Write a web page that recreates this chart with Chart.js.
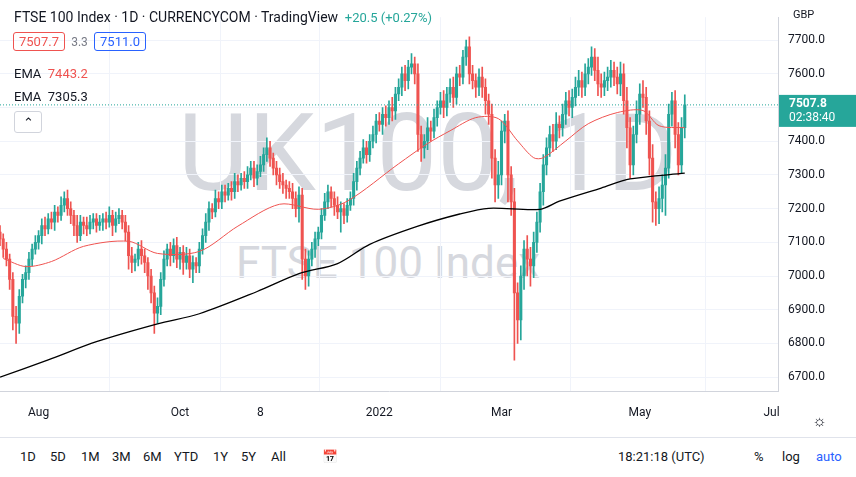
<!DOCTYPE html>
<html><head><meta charset="utf-8">
<script src="https://cdn.jsdelivr.net/npm/chart.js@4"></script>
<style>
body{margin:0;background:#fff;font-family:Roboto,"Noto Sans",sans-serif;color:#131722;width:856px;height:477px;overflow:hidden;position:relative}
#wrap{position:absolute;left:0;top:0;width:856px;height:434px}
.wm{position:absolute;color:#d6d8de;white-space:nowrap;z-index:0}
canvas{position:relative;z-index:1}
.ov{position:absolute;z-index:2;white-space:nowrap;font-size:13px}
#tb{position:absolute;left:0;top:437px;width:856px;height:40px;border-top:1px solid #e0e3eb;font-size:13px;z-index:2}
#tb span{position:absolute;top:11px}
.box{border:1px solid;border-radius:3px;padding:1px 5px}
</style></head><body>
<div class="wm" style="left:178px;top:98px;font-size:108px;line-height:110px">UK100, 1D</div>
<div class="wm" style="left:236px;top:238px;font-size:44px;line-height:50px">FTSE 100 Index</div>
<div id="wrap"><canvas id="c" width="856" height="434"></canvas></div>
<div class="ov" style="left:14px;top:9px;font-size:14px">FTSE 100 Index · 1D · CURRENCYCOM · TradingView <span style="color:#26a69a;font-size:13px">&nbsp;+20.5 (+0.27%)</span></div>
<div class="ov" style="left:13px;top:34px"><span class="box" style="border-color:#ef5350;color:#ef5350">7507.7</span> <span style="color:#787b86;font-size:12px">&nbsp;3.3&nbsp;</span> <span class="box" style="border-color:#2962ff;color:#2962ff">7511.0</span></div>
<div class="ov" style="left:14px;top:66px">EMA <span style="color:#ef5350">&nbsp;7443.2</span></div>
<div class="ov" style="left:14px;top:89px">EMA <span>&nbsp;7305.3</span></div>
<div class="ov" style="left:14px;top:111px;width:26px;height:20px;border:1px solid #d1d4dc;border-radius:3px;text-align:center;line-height:22px;background:#fff">&#8963;</div>
<div class="ov" style="left:793px;top:8px;font-size:11px">GBP</div>
<div class="ov" style="left:812px;top:411px;font-size:16px">&#9788;</div>
<div id="tb">
<span style="left:20px">1D</span><span style="left:50px">5D</span><span style="left:81px">1M</span><span style="left:112px">3M</span><span style="left:143px">6M</span><span style="left:174px">YTD</span><span style="left:213px">1Y</span><span style="left:241px">5Y</span><span style="left:271px">All</span>
<span style="left:322px">&#128197;</span>
<span style="left:618px">18:21:18 (UTC)</span><span style="left:754px">%</span><span style="left:782px">log</span><span style="left:816px;color:#2962ff">auto</span>
</div>
<script>
const closes=[7110,7080,7050,6990,6880,6860,6940,6990,7010,7050,
7080,7100,7120,7150,7140,7170,7160,7190,7180,7210,
7230,7200,7180,7150,7120,7160,7150,7140,7160,7170,
7150,7160,7170,7160,7180,7150,7170,7180,7160,7130,
7060,7040,7050,7080,7060,7040,7000,6950,6890,6910,
6990,7050,7080,7060,7090,7050,7070,7040,7060,7020,
7040,7030,7080,7120,7160,7200,7190,7230,7220,7250,
7240,7260,7250,7280,7270,7290,7280,7300,7320,7290,
7310,7330,7360,7380,7350,7320,7300,7280,7270,7260,
7250,7230,7200,7240,7050,7000,7050,7080,7110,7130,
7180,7220,7250,7230,7210,7190,7200,7180,7210,7230,
7280,7320,7350,7380,7360,7400,7420,7460,7450,7480,
7470,7500,7490,7540,7560,7600,7580,7620,7630,7600,
7420,7380,7400,7440,7430,7470,7500,7520,7500,7540,
7560,7530,7600,7590,7650,7680,7600,7580,7560,7590,
7560,7520,7480,7350,7270,7300,7430,7460,7300,7220,
6950,6870,7000,7080,7050,7030,7100,7160,7250,7330,
7380,7420,7400,7450,7440,7480,7520,7500,7530,7560,
7580,7560,7600,7620,7650,7610,7570,7560,7580,7590,
7610,7590,7570,7600,7520,7440,7330,7420,7480,7540,
7530,7460,7350,7220,7200,7230,7270,7320,7480,7520,
7420,7330,7440,7508];
const upWick=[20,15,20,15,20,30,20,15,20,20, 15,20,15,20,25,15,20,20,15,25, 20,25,20,15,30,20,15,25,20,15,
15,20,15,20,25,15,20,20,15,20, 20,25,15,20,25,20,15,20,20,25, 20,25,15,20,20,25,15,20,25,20,
20,15,20,20,25,20,15,25,20,20, 20,15,20,25,20,15,20,25,20,20, 20,25,20,30,20,15,20,20,25,15,
20,25,20,25,20,30,25,20,20,15, 20,25,20,15,20,25,20,15,20,20, 25,20,20,25,20,20,25,20,25,20,
25,20,30,20,25,20,25,20,30,20, 30,25,20,30,20,25,20,25,30,20, 25,30,20,25,20,20,30,25,20,25,
30,25,20,30,25,40,30,20,30,25, 40,30,30,25,40,35,30,30,25,30, 30,25,30,35,25,30,25,30,25,30,
30,25,30,25,30,25,40,30,25,30, 30,25,30,35,30,40,30,25,40,30, 40,30,30,40,30,35,30,40,30,25,
30,35,30,30];
const dnWick=[20,25,20,30,40,60,30,20,25,20, 20,15,20,25,20,15,20,25,20,15, 20,20,25,30,20,15,25,20,15,20,
20,15,25,20,15,30,20,15,20,25, 40,30,25,20,25,30,40,30,60,30, 25,20,20,30,20,25,30,35,20,25,
40,20,20,15,20,25,20,15,20,20, 20,15,25,20,20,15,20,20,15,25, 20,15,20,20,25,20,30,20,25,30,
20,30,25,40,60,40,30,20,25,20, 20,15,20,25,30,20,60,25,20,15, 20,25,20,15,25,20,20,25,20,30,
25,20,30,25,20,25,30,25,20,30, 50,40,30,25,30,20,25,20,30,25, 25,30,20,25,20,25,30,25,30,25,
30,40,30,60,50,40,30,35,80,40, 200,70,60,40,50,60,35,30,30,40, 30,25,30,25,30,25,30,25,30,25,
25,30,25,30,25,30,35,30,25,30, 30,25,30,35,40,60,40,30,25,30, 30,40,50,60,50,45,40,90,30,35,
40,30,25,30];
const emaShortIdx=[1,8,16,26,40,49,62,74,87,99,108,124,133,140,148,155,161,166,169,176,183,192,200,205,213];
const emaShortVal=[7052,7028,7043,7088,7103,7067,7073,7148,7213,7198,7222,7333,7393,7431,7470,7467,7401,7351,7351,7401,7452,7485,7491,7446,7440];
const emaLongIdx=[0,15,30,49,62,80,93,105,115,130,143,152,168,174,187,196,213];
const emaLongVal=[6700,6751,6805,6858,6888,6954,7007,7037,7094,7148,7184,7201,7198,7222,7261,7288,7305];
const tickIdx=[12,56,81,118,156,199,240];
const tickText=['Aug','Oct','8','2022','Mar','May','Jul'];
const yTicks=[6700,6800,6900,7000,7100,7200,7300,7400,7500,7600,7700];
const lastPrice=7507.8, countdown='02:38:40';
const totalSlots=243;

const labels=[];for(let i=0;i<totalSlots;i++)labels.push(i);
const opens=closes.map((c,i)=>i===0?7130:closes[i-1]);
const up='#26a69a',down='#ef5350';
const cols=closes.map((c,i)=>c>=opens[i]?up:down);
const bodies=closes.map((c,i)=>[opens[i],c===opens[i]?c+1:c]);
const wicks=closes.map((c,i)=>[Math.min(c,opens[i])-dnWick[i],Math.max(c,opens[i])+upWick[i]]);
function sparse(idx,val){const a=new Array(totalSlots).fill(null);idx.forEach((k,j)=>a[k]=val[j]);return a;}

const lastLine={id:'last',afterDatasetsDraw(ch){
 const {ctx,chartArea:a,scales:{y}}=ch;const py=y.getPixelForValue(lastPrice);
 ctx.save();ctx.strokeStyle=up;ctx.setLineDash([1,2]);ctx.beginPath();ctx.moveTo(a.left,py);ctx.lineTo(a.right,py);ctx.stroke();
 ctx.setLineDash([]);ctx.fillStyle=up;ctx.fillRect(a.right+1,py-10,77,32);
 ctx.fillStyle='#fff';ctx.font='bold 12px Roboto';ctx.textBaseline='middle';ctx.fillText(lastPrice.toFixed(1),a.right+11,py-1);
 ctx.font='12px Roboto';ctx.fillText(countdown,a.right+11,py+13);ctx.restore();}};

new Chart(document.getElementById('c'),{
 data:{labels,datasets:[
  {type:'line',data:sparse(emaLongIdx,emaLongVal),borderColor:'#000',borderWidth:1.3,pointRadius:0,spanGaps:true,tension:0.3,order:0},
  {type:'line',data:sparse(emaShortIdx,emaShortVal),borderColor:'#ef5350',borderWidth:1,pointRadius:0,spanGaps:true,tension:0.3,order:1},
  {type:'bar',data:bodies,backgroundColor:cols,barThickness:2.4,grouped:false,order:2},
  {type:'bar',data:wicks,backgroundColor:cols,barThickness:1,grouped:false,order:3}
 ]},
 plugins:[lastLine],
 options:{responsive:false,animation:false,layout:{padding:{top:0,bottom:0}},
  plugins:{legend:{display:false},tooltip:{enabled:false}},
  scales:{
   x:{type:'category',offset:false,grid:{color:'#f0f3fa',drawTicks:false},border:{color:'#d1d4dc'},
     afterBuildTicks:s=>{s.ticks=tickIdx.map(v=>({value:v}));},
     ticks:{autoSkip:false,maxRotation:0,padding:14,color:'#131722',font:{size:12,family:'Roboto'},callback:v=>{const k=tickIdx.indexOf(v);return k<0?'':tickText[k];}}},
   y:{position:'right',min:6657,max:7768,grid:{color:'#f0f3fa',drawTicks:false},border:{color:'#d1d4dc'},
     afterBuildTicks:s=>{s.ticks=yTicks.map(v=>({value:v}));},
     afterFit:s=>{s.width=78;},
     ticks:{padding:10,color:'#131722',font:{size:12,family:'Roboto'},callback:v=>v.toFixed(1)}}
  }}
});
</script></body></html>
